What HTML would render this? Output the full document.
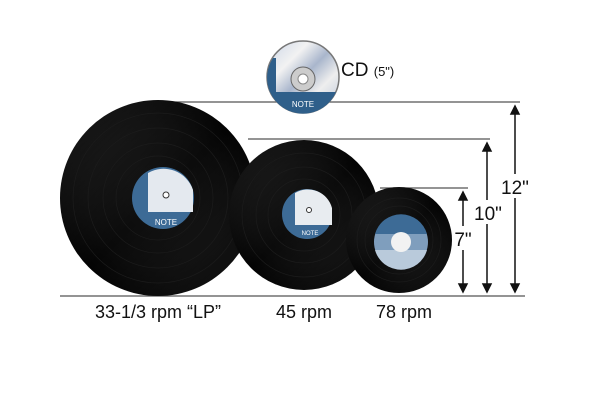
<!DOCTYPE html>
<html><head><meta charset="utf-8"><style>
html,body{margin:0;padding:0;background:#fff;}
svg{display:block;}
text{font-family:"Liberation Sans",sans-serif;fill:#111;}
</style></head><body>
<svg width="600" height="400" viewBox="0 0 600 400" xmlns="http://www.w3.org/2000/svg">
<defs>
<radialGradient id="vin" cx="50%" cy="50%" r="50%">
<stop offset="0" stop-color="#111"/><stop offset="0.7" stop-color="#0a0a0a"/><stop offset="1" stop-color="#030303"/>
</radialGradient>
<linearGradient id="shine" x1="0" y1="0" x2="1" y2="1">
<stop offset="0" stop-color="#fff" stop-opacity="0.10"/><stop offset="0.5" stop-color="#fff" stop-opacity="0"/><stop offset="1" stop-color="#fff" stop-opacity="0.07"/>
</linearGradient>
<linearGradient id="cdg" x1="0" y1="0" x2="1" y2="1">
<stop offset="0" stop-color="#c9d4e6"/><stop offset="0.3" stop-color="#f2f2f2"/><stop offset="0.5" stop-color="#a9b6cc"/><stop offset="0.7" stop-color="#eee"/><stop offset="1" stop-color="#b8c2d8"/>
</linearGradient>
</defs>
<g stroke="#555" stroke-width="1.3" fill="none">
<line x1="150" y1="102" x2="520" y2="102"/>
<line x1="248" y1="139" x2="490" y2="139"/>
<line x1="380" y1="188" x2="468" y2="188"/>
<line x1="60" y1="296" x2="525" y2="296"/>
</g>
<g stroke="#111" stroke-width="1.5" fill="#111">
<line x1="515" y1="108" x2="515" y2="290"/>
<path d="M511 114 L515 106 L519 114Z M511 284 L515 292 L519 284Z"/>
<line x1="487" y1="145" x2="487" y2="290"/>
<path d="M483 151 L487 143 L491 151Z M483 284 L487 292 L491 284Z"/>
<line x1="463" y1="194" x2="463" y2="290"/>
<path d="M459 200 L463 192 L467 200Z M459 284 L463 292 L467 284Z"/>
</g>
<rect x="499" y="174" width="32" height="24" fill="#fff"/>
<rect x="472" y="200" width="30" height="24" fill="#fff"/>
<rect x="452" y="226" width="24" height="24" fill="#fff"/>
<text x="515" y="194" font-size="19" text-anchor="middle">12"</text>
<text x="488" y="220" font-size="19" text-anchor="middle">10"</text>
<text x="463" y="246" font-size="19" text-anchor="middle">7"</text>
<!-- LP -->
<circle cx="158" cy="198" r="98" fill="url(#vin)"/>
<circle cx="158" cy="198" r="98" fill="url(#shine)"/>
<g fill="none" stroke="#1c1c1c" stroke-width="0.7"><circle cx="158" cy="198" r="85"/><circle cx="158" cy="198" r="70"/><circle cx="158" cy="198" r="55"/><circle cx="158" cy="198" r="42"/></g>
<circle cx="163" cy="198" r="31" fill="#3d6b96"/>
<path d="M148 173 A31 31 0 0 1 193 190 L193 212 L148 212Z" fill="#e4e9ef"/>
<text x="166" y="225" font-size="8" style="fill:#fff" text-anchor="middle">NOTE</text>
<circle cx="166" cy="195" r="3" fill="#fff" stroke="#333"/>
<!-- 45 -->
<circle cx="304" cy="215" r="75" fill="url(#vin)"/>
<circle cx="304" cy="215" r="75" fill="url(#shine)"/>
<g fill="none" stroke="#1c1c1c" stroke-width="0.7"><circle cx="304" cy="215" r="62"/><circle cx="304" cy="215" r="48"/><circle cx="304" cy="215" r="36"/></g>
<circle cx="307" cy="214" r="25" fill="#3d6b96"/>
<path d="M295 193 A25 25 0 0 1 332 208 L332 225 L295 225Z" fill="#e8ecf0"/>
<text x="310" y="235" font-size="6" style="fill:#fff" text-anchor="middle">NOTE</text>
<circle cx="309" cy="210" r="2.5" fill="#fff" stroke="#333"/>
<!-- 78 -->
<circle cx="399" cy="240" r="53" fill="url(#vin)"/>
<circle cx="399" cy="240" r="53" fill="url(#shine)"/>
<g fill="none" stroke="#1c1c1c" stroke-width="0.7"><circle cx="399" cy="240" r="42"/><circle cx="399" cy="240" r="34"/></g>
<circle cx="401" cy="242" r="27" fill="#7f9ebd"/>
<path d="M375 234 A27 27 0 0 1 427 234Z" fill="#3d6b96"/>
<path d="M375 250 A27 27 0 0 0 427 250Z" fill="#b9cadb"/>
<circle cx="401" cy="242" r="10" fill="#f2f2f2"/>
<!-- CD -->
<circle cx="303" cy="77" r="36" fill="url(#cdg)" stroke="#777" stroke-width="1.5"/>
<path d="M270 92 A36 36 0 0 0 336 92Z" fill="#2f5f8a"/>
<path d="M270 92 A36 36 0 0 1 273 58 L276 58 L276 92Z" fill="#2f5f8a"/>
<text x="303" y="107" font-size="8" style="fill:#fff" text-anchor="middle">NOTE</text>
<circle cx="303" cy="79" r="12" fill="#ccc" stroke="#666"/>
<circle cx="303" cy="79" r="5" fill="#fff" stroke="#888"/>
<text x="341" y="76" font-size="19">CD <tspan font-size="13">(5")</tspan></text>
<text x="158" y="318" font-size="18" text-anchor="middle">33-1/3 rpm “LP”</text>
<text x="304" y="318" font-size="18" text-anchor="middle">45 rpm</text>
<text x="404" y="318" font-size="18" text-anchor="middle">78 rpm</text>
</svg>
</body></html>
